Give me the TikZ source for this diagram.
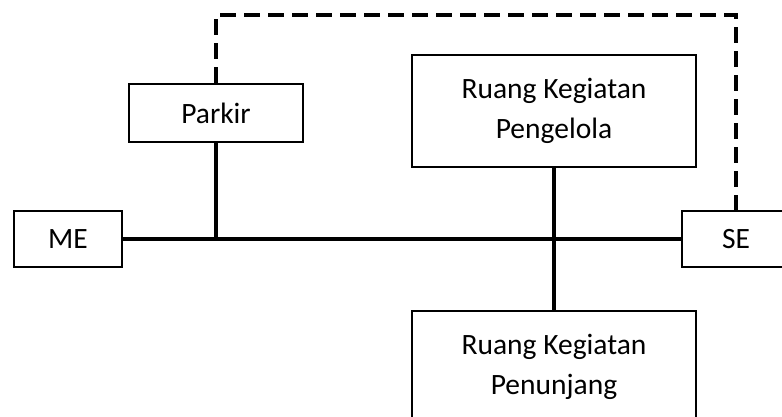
\documentclass[tikz,border=0pt]{standalone}
\usepackage{fontspec}
\setmainfont{Carlito}
\begin{document}
\begin{tikzpicture}[x=1pt,y=-1pt,
  box/.style={draw=black,line width=2.8pt,fill=white,inner sep=0pt,align=center,font=\fontsize{29.5}{40}\selectfont},
  conn/.style={line width=4pt},
  dconn/.style={line width=4pt,dash pattern=on 16pt off 8pt}]
\clip (0,0) rectangle (782,417);
\fill[white] (0,0) rectangle (782,417);
\node[box,minimum width=108pt,minimum height=56pt] (me) at (68,239) {ME};
\node[box,minimum width=174pt,minimum height=58pt] (parkir) at (216,113) {Parkir};
\node[box,minimum width=284pt,minimum height=112pt] (peng) at (554,111) {Ruang Kegiatan\\Pengelola};
\node[box,minimum width=108pt,minimum height=56pt] (se) at (736,239) {SE};
\node[box,minimum width=284pt,minimum height=112pt] (penu) at (554,367) {Ruang Kegiatan\\Penunjang};
\coordinate (j1) at (parkir.south |- me.east);
\draw[conn] (me.east) -- (se.west);
\draw[conn] (parkir.south) -- (j1);
\draw[conn] (peng.south) -- (penu.north);
\draw[dconn] (parkir.north) -- (parkir.north |- 0,15) -| (se.north);
\end{tikzpicture}
\end{document}
